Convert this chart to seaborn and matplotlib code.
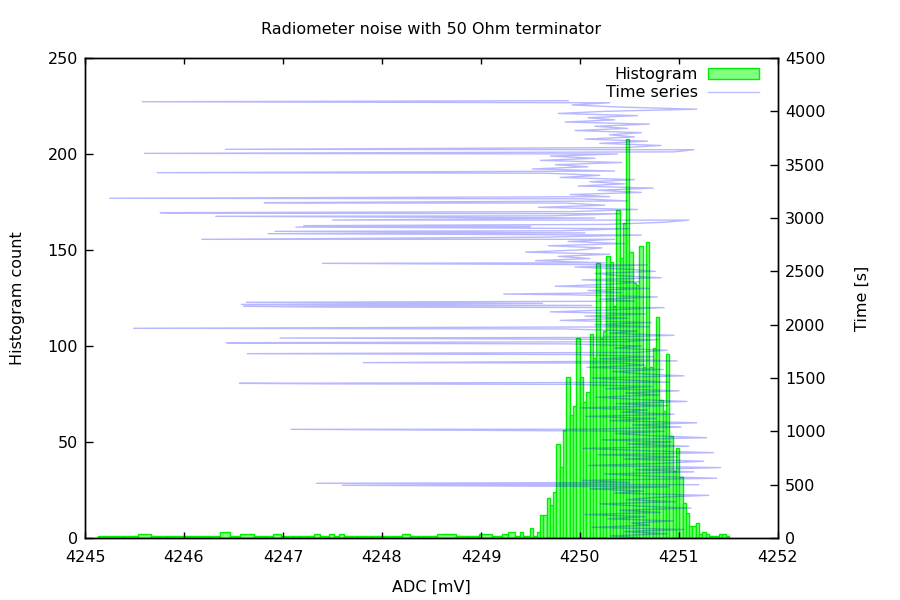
import numpy as np
import pandas as pd
import matplotlib
matplotlib.use("Agg")
import matplotlib.pyplot as plt
import seaborn as sns
from matplotlib.patches import Patch
from matplotlib.lines import Line2D

# ========= DATA =========
# sparse low tail of the histogram: irregular bin edges [mV] and counts
tail_edges = [4245.135, 4245.380, 4245.539, 4245.663, 4245.741, 4245.825, 4246.044,
              4246.256, 4246.364, 4246.461, 4246.522, 4246.569, 4246.710, 4246.825,
              4246.902, 4246.976, 4247.027, 4247.104, 4247.162, 4247.239, 4247.316,
              4247.374, 4247.418, 4247.465, 4247.515, 4247.566, 4247.616, 4247.744,
              4247.902, 4248.030, 4248.205, 4248.283, 4248.367, 4248.418, 4248.559,
              4248.744, 4248.855, 4248.983, 4249.108, 4249.209, 4249.276, 4249.343]
tail_counts = [1, 1, 2, 1, 1, 1, 1, 1, 3, 1,
               1, 2, 1, 1, 2, 1, 1, 1, 1, 1,
               2, 1, 1, 2, 1, 2, 1, 1, 1, 1,
               2, 1, 1, 1, 2, 1, 1, 2, 1, 2,
               3, 1]

# main body of the histogram: regular ADC steps
main_start = 4249.394
main_step = 0.0335
main_counts = [3, 1, 1, 5, 1, 3, 12, 12, 21, 17,
               24, 49, 37, 56, 84, 64, 69, 104, 84, 71,
               76, 106, 94, 143, 104, 108, 147, 144, 121, 171,
               146, 164, 208, 149, 133, 132, 152, 89, 154, 89,
               99, 115, 72, 66, 96, 53, 35, 47, 32, 18,
               13, 6, 6, 8, 2, 3, 2, 1, 1, 1,
               2, 2, 1]

# time series, one reading every 20 s (ADC in mV)
ts_step_s = 20
ts_adc = [
    4250.62, 4250.31, 4250.88, 4250.45, 4251.05, 4250.12, 4250.70, 4250.52, 4250.94, 4250.28,
    4250.66, 4250.05, 4250.81, 4250.40, 4251.12, 4250.58, 4250.20, 4250.97, 4250.47, 4250.75,
    4251.30, 4250.35, 4250.64, 4250.10, 4250.90, 4251.20, 4250.50, 4250.02, 4251.38, 4250.69,
    4250.25, 4251.15, 4250.56, 4251.42, 4250.08, 4250.83, 4251.25, 4250.44, 4250.99, 4250.18,
    4251.35, 4250.60, 4250.03, 4251.10, 4250.48, 4250.92, 4250.22, 4251.28, 4250.71, 4250.36,
    4250.85, 4250.14, 4251.02, 4250.53, 4251.18, 4250.30, 4250.77, 4250.06, 4250.95, 4250.42,
    4250.68, 4250.00, 4250.89, 4250.37, 4251.08, 4250.55, 4250.16, 4250.80, 4250.46, 4251.00,
    4250.26, 4250.73, 4249.95, 4250.90, 4250.50, 4250.12, 4251.05, 4250.61, 4250.33, 4250.84,
    4250.07, 4250.66, 4250.41, 4250.98, 4250.20, 4250.74, 4249.92, 4250.57, 4250.88, 4250.35,
    4250.62, 4249.88, 4250.45, 4250.79, 4250.10, 4250.95, 4250.30, 4250.58, 4249.85, 4250.70,
    4250.15, 4250.72, 4249.80, 4250.48, 4250.05, 4250.66, 4249.70, 4250.36, 4250.85, 4250.12,
    4249.62, 4250.55, 4250.20, 4250.78, 4249.90, 4250.42, 4250.08, 4250.70, 4249.75, 4250.32,
    4250.60, 4250.02, 4250.82, 4250.38, 4250.15, 4250.76, 4250.50, 4249.95, 4250.68, 4250.25,
    4249.55, 4250.10, 4249.78, 4250.30, 4249.45, 4249.98, 4250.22, 4249.68, 4250.45, 4249.88,
    4250.35, 4249.60, 4250.62, 4250.05, 4249.82, 4250.50, 4249.50, 4250.28, 4250.85, 4251.10,
    4250.15, 4249.72, 4250.40, 4249.92, 4250.58, 4249.58, 4250.25, 4249.85, 4250.48, 4250.02,
    4250.30, 4249.90, 4250.62, 4250.18, 4250.74, 4249.98, 4250.45, 4250.10, 4250.55, 4249.80,
    4250.20, 4249.65, 4250.35, 4249.52, 4250.08, 4249.75, 4250.42, 4249.60, 4250.15, 4249.70,
    4250.38, 4250.95, 4251.15, 4250.45, 4250.82, 4250.20, 4250.68, 4250.05, 4250.55, 4250.30,
    4250.62, 4249.95, 4250.48, 4250.15, 4250.70, 4249.85, 4250.35, 4250.08, 4250.58, 4249.78,
    4250.25, 4251.18, 4250.40, 4249.92, 4250.30, 4249.88,
]

# single-sample glitches (time [s], ADC [mV])
spike_time = [494, 513, 1019, 1445, 1450, 1644, 1728, 1827, 1831, 1875, 1966,
              2165, 2172, 2190, 2210, 2287, 2575, 2800, 2853, 2875, 2915, 2928,
              2981, 3016, 3045, 3050, 3140, 3144, 3185, 3425, 3606, 3644, 4090]
spike_adc = [4247.60, 4247.34, 4247.08, 4247.46, 4246.56, 4247.81, 4246.64, 4246.48,
             4246.43, 4246.97, 4245.49, 4247.35, 4246.60, 4246.58, 4246.63, 4249.23,
             4247.40, 4246.18, 4246.85, 4246.92, 4247.13, 4247.21, 4247.50, 4246.32,
             4245.90, 4245.76, 4247.29, 4246.81, 4245.25, 4245.73, 4245.60, 4246.42,
             4245.58]

# ========= BUILD HISTOGRAM BINS =========
main_edges = main_start + main_step * np.arange(len(main_counts) + 1)
edges = np.concatenate([tail_edges, main_edges])
hist = pd.DataFrame({
    "adc": 0.5 * (edges[:-1] + edges[1:]),
    "n": tail_counts + main_counts,
})

# ========= BUILD TIME SERIES =========
ts = pd.DataFrame({
    "time": np.concatenate([ts_step_s * np.arange(len(ts_adc)), spike_time]),
    "adc": np.concatenate([ts_adc, spike_adc]),
}).sort_values("time", kind="stable").reset_index(drop=True)

# ========= PLOT =========
plt.rcParams["font.family"] = "DejaVu Sans"
fs = 11.5

fig = plt.figure(figsize=(9, 6), dpi=100)
ax = fig.add_axes([85 / 900, 62 / 600, 693 / 900, 480 / 600])

sns.histplot(data=hist, x="adc", weights="n", bins=edges.tolist(), ax=ax, stat="count",
             element="bars", fill=True, color="#80ff80", alpha=1,
             edgecolor="#00ee00", linewidth=1)

ax2 = ax.twinx()
sns.lineplot(data=ts, x="adc", y="time", sort=False, estimator=None, ax=ax2,
             color="#0000ff", alpha=0.28, linewidth=1.0)

ax.set_xlim(4245, 4252)
ax.set_ylim(0, 250)
ax2.set_ylim(0, 4500)
ax.set_xticks(range(4245, 4253))
ax.set_yticks(range(0, 251, 50))
ax2.set_yticks(range(0, 4501, 500))

ax.tick_params(axis="x", direction="in", top=True, length=4, width=1, pad=9, labelsize=fs)
ax.tick_params(axis="y", direction="in", right=False, length=6, width=1, pad=5, labelsize=fs)
ax2.tick_params(axis="y", direction="in", length=6, width=1, pad=5, labelsize=fs)

ax.set_xlabel("ADC [mV]", fontsize=fs, labelpad=10)
ax.set_ylabel("Histogram count", fontsize=fs, labelpad=16)
ax2.set_ylabel("Time [s]", fontsize=fs, labelpad=21)
ax.set_title("Radiometer noise with 50 Ohm terminator", fontsize=fs, pad=17)

for a in (ax, ax2):
    for s in a.spines.values():
        s.set_linewidth(1)
        s.set_color("black")

handles = [Patch(facecolor="#80ff80", edgecolor="#00ee00", linewidth=1),
           Line2D([], [], color="#0000ff", alpha=0.25, linewidth=1)]
leg = ax2.legend(handles, ["Histogram", "Time series"], loc="upper right",
                 bbox_to_anchor=(759 / 900, 1 - 67 / 600), bbox_transform=fig.transFigure,
                 frameon=False, markerfirst=False, handlelength=3.2, handletextpad=0.65,
                 labelspacing=0.2, borderpad=0, borderaxespad=0, fontsize=fs)
for col in leg._legend_handle_box.get_children():
    col.align = "right"

fig.savefig("out.png", dpi=100)
